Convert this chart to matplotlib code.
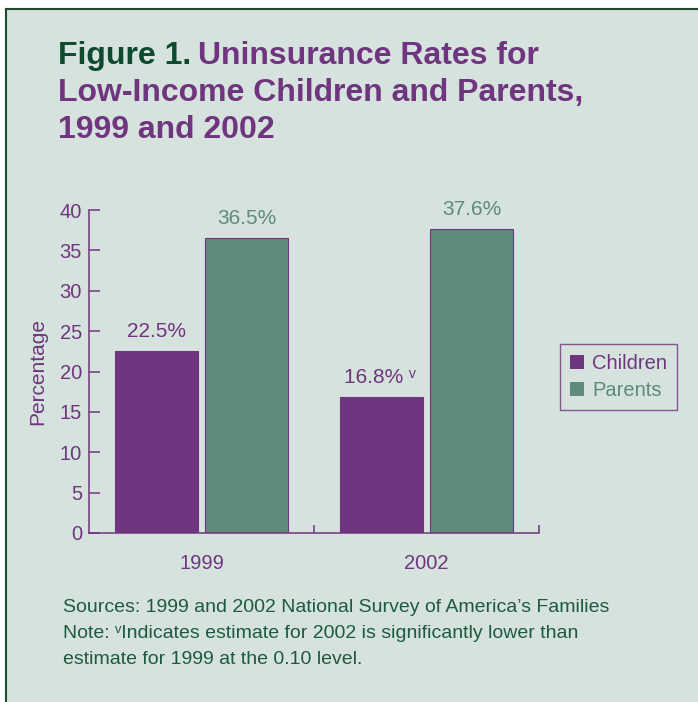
import matplotlib
matplotlib.use("Agg")
from matplotlib import pyplot as plt
from matplotlib.patches import Rectangle, Patch
from matplotlib.lines import Line2D
import numpy as np

# data
years = ['1999', '2002']
children = [22.5, 16.8]
parents = [36.5, 37.6]
children_labels = ['22.5%', '16.8% \u1d5b']
parents_labels = ['36.5%', '37.6%']
yticks = [0, 5, 10, 15, 20, 25, 30, 35, 40]

purple = '#6f357e'
green = '#5e8b7a'
dark_green = '#0e4a2e'
note_green = '#1d5a3f'
bg = '#d6e2dd'

plt.rcParams['font.family'] = ['Liberation Sans', 'DejaVu Sans']

fig = plt.figure(figsize=(6.98, 7.02), dpi=100)
fig.patch.set_facecolor('white')

# panel background + border (top and left only)
W, H = 698.0, 702.0
fig.patches.append(Rectangle((6 / W, 0), 1 - 6 / W, 1 - 9 / H, transform=fig.transFigure,
                             facecolor=bg, edgecolor='none', zorder=-5))
fig.lines.append(Line2D([6 / W, 1], [1 - 9 / H, 1 - 9 / H], transform=fig.transFigure,
                        color='#1e4a34', lw=1.5, zorder=-4))
fig.lines.append(Line2D([6 / W, 6 / W], [0, 1 - 9 / H], transform=fig.transFigure,
                        color='#1e4a34', lw=1.5, zorder=-4))

# title
tsize = 23
t1 = fig.text(58 / W, 1 - 64 / H, 'Figure 1.', fontsize=tsize, fontweight='bold', color=dark_green,
              va='baseline', ha='left')
fig.canvas.draw()
bb = t1.get_window_extent()
fig.text(bb.x1 / W + 7 / W, 1 - 64 / H, 'Uninsurance Rates for', fontsize=tsize, fontweight='bold',
         color=purple, va='baseline', ha='left')
fig.text(58 / W, 1 - 101 / H, 'Low-Income Children and Parents,', fontsize=tsize, fontweight='bold',
         color=purple, va='baseline', ha='left')
fig.text(58 / W, 1 - 138 / H, '1999 and 2002', fontsize=tsize, fontweight='bold',
         color=purple, va='baseline', ha='left')

ax = fig.add_axes([89 / W, 1 - 533 / H, 450 / W, 323 / H])
ax.set_facecolor('none')

x = np.arange(len(years))
w = 0.365
ax.bar(x - 0.2, children, w, color=purple, edgecolor=purple, linewidth=0.8)
ax.bar(x + 0.2, parents, w, color=green, edgecolor=purple, linewidth=0.8)

for i in range(len(years)):
    dx = -1 if i == 1 else 0
    ax.annotate(children_labels[i], (x[i] - 0.2, children[i]), xytext=(dx, 10),
                textcoords='offset points', ha='center', va='baseline', fontsize=15, color=purple)
    ax.annotate(parents_labels[i], (x[i] + 0.2, parents[i]), xytext=(0, 10),
                textcoords='offset points', ha='center', va='baseline', fontsize=15, color=green)

ax.set_xlim(-0.5, 1.5)
ax.set_ylim(0, 40)
ax.set_yticks(yticks)
ax.set_xticks(x)
ax.set_xticklabels(years)
ax.set_xticks([0.5, 1.5], minor=True)

for s in ['top', 'right']:
    ax.spines[s].set_visible(False)
for s in ['left', 'bottom']:
    ax.spines[s].set_color(purple)
    ax.spines[s].set_linewidth(1.1)

ax.tick_params(axis='y', direction='in', length=8, width=1.1, color=purple, labelcolor=purple,
               labelsize=14.5, pad=5)
ax.tick_params(axis='x', which='major', length=0, labelcolor=purple, labelsize=14.5, pad=15)
ax.tick_params(axis='x', which='minor', direction='in', length=6, width=1.1, color=purple)

ax.set_ylabel('Percentage', fontsize=15, color=purple, labelpad=9)

handles = [Patch(facecolor=purple, edgecolor='none', label='Children'),
           Patch(facecolor=green, edgecolor='none', label='Parents')]
leg = fig.legend(handles=handles, loc='upper left', bbox_to_anchor=(560 / W, 1 - 344 / H),
                 fontsize=14.5, frameon=True, fancybox=False, handlelength=0.7, handleheight=0.7,
                 handletextpad=0.4, labelspacing=0.4, borderpad=0.5, borderaxespad=0)
leg.get_frame().set_edgecolor(purple)
leg.get_frame().set_facecolor('none')
leg.get_frame().set_linewidth(1.0)
leg.get_texts()[0].set_color(purple)
leg.get_texts()[1].set_color(green)

# notes
notes = ['Sources: 1999 and 2002 National Survey of America\u2019s Families',
         'Note: \u1d5bIndicates estimate for 2002 is significantly lower than',
         'estimate for 1999 at the 0.10 level.']
for k, t in enumerate(notes):
    fig.text(63 / W, 1 - (612 + 26 * k) / H, t, fontsize=14, color=note_green,
             va='baseline', ha='left')

fig.savefig('out.png', dpi=100, facecolor=fig.get_facecolor())
